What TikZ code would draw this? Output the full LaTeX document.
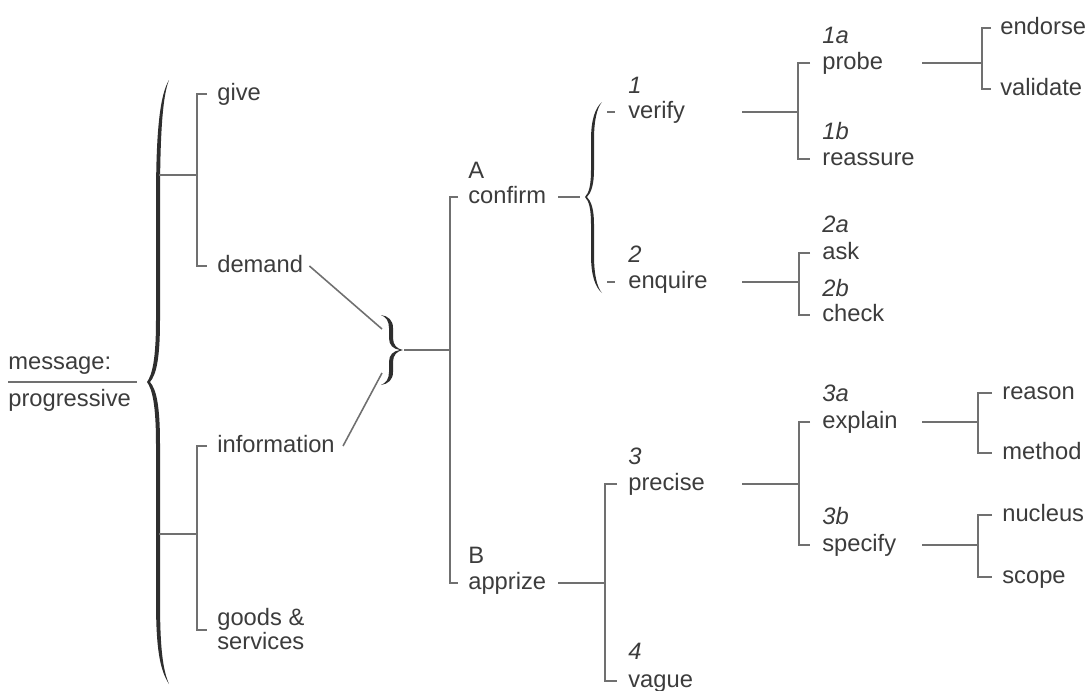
\documentclass[tikz,border=0pt]{standalone}
\usepackage{fontspec}
\setmainfont{Liberation Sans}
\definecolor{txt}{HTML}{3C3C3C}
\definecolor{rul}{HTML}{707070}
\definecolor{brc}{HTML}{2E2E2E}

\begin{document}
\begin{tikzpicture}[x=0.02cm, y=-0.02cm,
    word/.style={anchor=west, inner sep=0pt, text height=9.7pt, text depth=2.7pt,
      text=txt, font=\fontsize{13.5}{16}\selectfont},
    num/.style={word, font=\fontsize{13.5}{16}\selectfont\itshape},
    ln/.style={draw=rul, line width=0.9pt},
    bracefill/.style={fill=brc}]
    \useasboundingbox (0,0) rectangle (1089,690);

    % left: message
    \node[word] (msg) at (8,363) {message:};
    \node[word] (prog) at (8,400) {progressive};
    \draw[ln] ([yshift=-0.38cm]msg.west) -- ++(129,0);

    % big brace
    \fill[bracefill] (169,80) .. controls (160,95) and (156,130) .. (156,200) -- (156,320)
        .. controls (156,360) and (152,375) .. (147,382)
        .. controls (152,389) and (156,404) .. (156,444) -- (156,600)
        .. controls (156,650) and (160,670) .. (169,684)
        .. controls (163,670) and (160,650) .. (160,600) -- (160,444)
        .. controls (160,404) and (156,389) .. (150,382)
        .. controls (156,375) and (160,360) .. (160,320) -- (160,200)
        .. controls (160,130) and (163,95) .. (169,80) -- cycle;
    \coordinate (bbU) at (159,175);
    \coordinate (bbL) at (159,534);

    \node[word] (give) at (217,94) {give};
    \node[word] (demand) at (217,266) {demand};
    \node[word] (info) at (217,446) {information};
    \node[word] (goods) at (217,619) {goods \&};
    \node[word] (serv) at (217,643) {services};

    \coordinate (gdJ) at (197,175);
    \coordinate (isJ) at (197,534);
    \draw[ln] ([xshift=-2mm]give.west) -| (gdJ) |- ([xshift=-2mm]demand.west);
    \draw[ln] ([xshift=-2mm]info.west) -| (isJ) |- ([xshift=-2mm]goods.south west);
    \draw[ln] (bbU) -- (gdJ);
    \draw[ln] (bbL) -- (isJ);

    % small brace
    \fill[bracefill] (381,315) .. controls (388,316) and (393,320) .. (393,328) -- (393,338)
        .. controls (393,345) and (397,349) .. (403,350)
        .. controls (397,351) and (393,355) .. (393,362) -- (393,372)
        .. controls (393,380) and (388,384) .. (381,385)
        .. controls (386,383) and (389,379) .. (389,372) -- (389,362)
        .. controls (389,355) and (393,351) .. (400,350)
        .. controls (393,349) and (389,345) .. (389,338) -- (389,328)
        .. controls (389,321) and (386,317) .. (381,315) -- cycle;
    \coordinate (sbU) at (382,329);
    \coordinate (sbL) at (382,373);
    \coordinate (sbT) at (404,350);
    \draw[ln] ([xshift=1.2mm]demand.east) -- (sbU);
    \draw[ln] ([xshift=1.6mm]info.east) -- (sbL);

    % A / B
    \node[word] (confirm) at (468,197) {confirm};
    \node[word] (A) at ([yshift=5mm]confirm.west) {A};
    \node[word] (apprize) at (468,583) {apprize};
    \node[word] (B) at ([yshift=5.2mm]apprize.west) {B};
    \coordinate (caJ) at (450,350);
    \draw[ln] ([xshift=-2mm]confirm.west) -| (caJ) |- ([xshift=-2mm]apprize.west);
    \draw[ln] (sbT) -- (caJ);

    % confirm brace
    \fill[bracefill] (602,102) .. controls (595,108) and (591,120) .. (591,140) -- (591,170)
        .. controls (591,185) and (589,193) .. (585,197)
        .. controls (589,201) and (591,209) .. (591,224) -- (591,255)
        .. controls (591,275) and (595,287) .. (602,293)
        .. controls (597,287) and (594,275) .. (594,255) -- (594,224)
        .. controls (594,209) and (591,201) .. (587,197)
        .. controls (591,193) and (594,185) .. (594,170) -- (594,140)
        .. controls (594,120) and (597,108) .. (602,102) -- cycle;
    \coordinate (cbL) at (580,197);
    \draw[ln] ([xshift=2.4mm]confirm.east) -- (cbL);

    % 1 - 4
    \node[word] (verify) at (628,112) {verify};
    \node[num] (n1) at ([yshift=5mm]verify.west) {1};
    \node[word] (enquire) at (628,282) {enquire};
    \node[num] (n2) at ([yshift=5.2mm]enquire.west) {2};
    \draw[ln] ([xshift=-4.2mm]verify.west) -- ([xshift=-2.6mm]verify.west);
    \draw[ln] ([xshift=-4.2mm]enquire.west) -- ([xshift=-2.6mm]enquire.west);

    \node[word] (precise) at (628,484) {precise};
    \node[num] (n3) at ([yshift=5.2mm]precise.west) {3};
    \node[word] (vague) at (628,681) {vague};
    \node[num] (n4) at ([yshift=5.6mm]vague.west) {4};
    \coordinate (pvJ) at (605,583);
    \draw[ln] ([xshift=-2.2mm]precise.west) -| (pvJ) |- ([xshift=-2.2mm]vague.west);
    \draw[ln] ([xshift=2.4mm]apprize.east) -- (pvJ);

    % 1a - 3b
    \coordinate (colB) at (742,0);
    \node[word] (probe) at (822,63) {probe};
    \node[num] (n1a) at ([yshift=5.2mm]probe.west) {1a};
    \node[word] (reass) at (822,159) {reassure};
    \node[num] (n1b) at ([yshift=5.2mm]reass.west) {1b};
    \coordinate (prJ) at (798,112);
    \draw[ln] ([xshift=-2.4mm]probe.west) -| (prJ) |- ([xshift=-2.4mm]reass.west);
    \draw[ln] (colB |- verify.west) -- (prJ);

    \node[word] (ask) at (822,253) {ask};
    \node[num] (n2a) at ([yshift=5.4mm]ask.west) {2a};
    \node[word] (check) at (822,315) {check};
    \node[num] (n2b) at ([yshift=5mm]check.west) {2b};
    \coordinate (acJ) at (799,282);
    \draw[ln] ([xshift=-2.4mm]ask.west) -| (acJ) |- ([xshift=-2.4mm]check.west);
    \draw[ln] (colB |- enquire.west) -- (acJ);

    \node[word] (explain) at (822,422) {explain};
    \node[num] (n3a) at ([yshift=5.4mm]explain.west) {3a};
    \node[word] (specify) at (822,545) {specify};
    \node[num] (n3b) at ([yshift=5.4mm]specify.west) {3b};
    \coordinate (esJ) at (799,484);
    \draw[ln] ([xshift=-2.4mm]explain.west) -| (esJ) |- ([xshift=-2.4mm]specify.west);
    \draw[ln] (colB |- precise.west) -- (esJ);

    % last column
    \coordinate (colC) at (922,0);
    \node[word] (endorse) at (1000,28) {endorse};
    \node[word] (valid) at (1000,89) {validate};
    \coordinate (evJ) at (982,63);
    \draw[ln] ([xshift=-1.8mm]endorse.west) -| (evJ) |- ([xshift=-1.8mm]valid.west);
    \draw[ln] (colC |- probe.west) -- (evJ);

    \node[word] (reason) at (1002,393) {reason};
    \node[word] (method) at (1002,453) {method};
    \coordinate (rmJ) at (978,422);
    \draw[ln] ([xshift=-2mm]reason.west) -| (rmJ) |- ([xshift=-2mm]method.west);
    \draw[ln] (colC |- explain.west) -- (rmJ);

    \node[word] (nucleus) at (1002,515) {nucleus};
    \node[word] (scope) at (1002,577) {scope};
    \coordinate (nsJ) at (978,545);
    \draw[ln] ([xshift=-2mm]nucleus.west) -| (nsJ) |- ([xshift=-2mm]scope.west);
    \draw[ln] (colC |- specify.west) -- (nsJ);
\end{tikzpicture}
\end{document}
